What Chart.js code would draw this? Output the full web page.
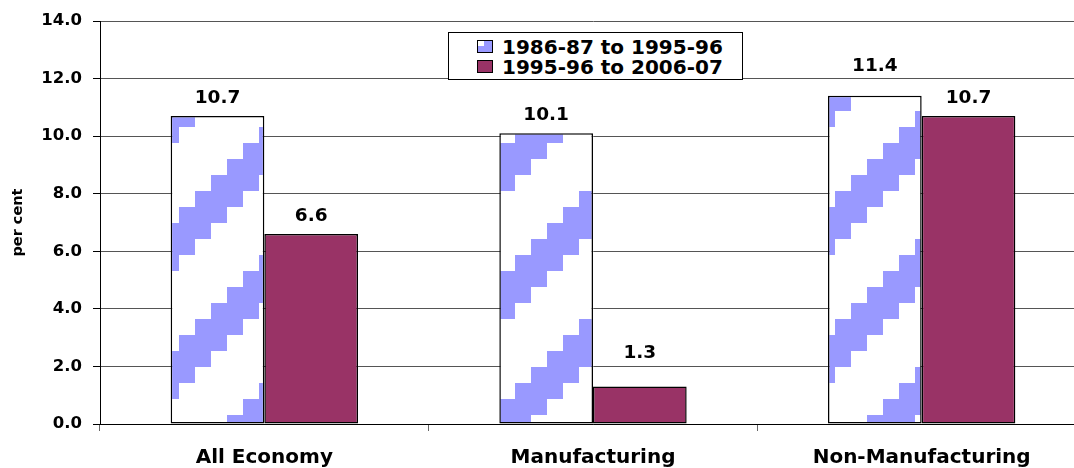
<!DOCTYPE html>
<html>
<head>
<meta charset="utf-8">
<script src="https://cdn.jsdelivr.net/npm/chart.js@4"></script>
<style>
  html, body { margin: 0; padding: 0; background: #fff; overflow: hidden; }
  #wrap { position: relative; width: 1074px; height: 468px; overflow: hidden; }
  #legend {
    position: absolute; left: 448px; top: 32px; width: 295px; height: 48px;
    box-sizing: border-box; border: 1px solid #000; background: #fff;
    font-family: 'DejaVu Sans', sans-serif; font-weight: bold; font-size: 20px;
  }
  .row { position: absolute; left: 53px; line-height: 20px; white-space: nowrap; }
  .sw { position: absolute; left: 28px; width: 16px; height: 13px; box-sizing: border-box; border: 1px solid #000; }
</style>
</head>
<body>
<div id="wrap">
  <canvas id="mycanvas" width="1086" height="468"></canvas>
  <div id="legend"></div>
</div>
<script>
// data
var categories = ['All Economy', 'Manufacturing', 'Non-Manufacturing'];
var seriesNames = ['1986-87 to 1995-96', '1995-96 to 2006-07'];
var firstPeriod = [10.7, 10.1, 11.4];
var secondPeriod = [6.6, 1.3, 10.7];
var yTicks = [0, 2, 4, 6, 8, 10, 12, 14];

var lavender = '#9999ff';
var maroon = '#993366';

// the staircase pattern of the first series (16px cells, 8 cells per repeat)
function makeStairs() {
    var c = document.createElement('canvas');
    c.width = 128;
    c.height = 128;
    var g = c.getContext('2d');
    g.fillStyle = '#fff';
    g.fillRect(0, 0, 128, 128);
    g.fillStyle = lavender;
    for (var u = -1; u <= 8; u++) {
        for (var v = -1; v <= 8; v++) {
            var k = ((u + v) % 8 + 8) % 8;
            if (k == 7 || k == 0 || k == 1) {
                g.fillRect(3 + 16 * u, 15 + 16 * v, 16, 16);
            }
        }
    }
    return g.createPattern(c, 'repeat');
}

// legend drawn as html on top of the plot
var legend = document.getElementById('legend');
seriesNames.forEach(function (name, i) {
    var sw = document.createElement('div');
    sw.className = 'sw';
    sw.style.top = (i == 0 ? 7 : 27) + 'px';
    if (i == 0) {
        sw.style.background = lavender;
        sw.innerHTML = '<div style="width:6px;height:5px;background:#fff"></div>';
    } else {
        sw.style.background = maroon;
    }
    legend.appendChild(sw);
    var t = document.createElement('div');
    t.className = 'row';
    t.style.top = (i == 0 ? 4 : 24) + 'px';
    t.textContent = name;
    legend.appendChild(t);
});

// value labels over the bars
var valueLabels = {
    id: 'valueLabels',
    afterDatasetsDraw: function (chart, args, opts) {
        var ctx = chart.ctx;
        ctx.save();
        ctx.font = 'bold 18.5px "DejaVu Sans"';
        ctx.fillStyle = '#000';
        ctx.textAlign = 'center';
        ctx.textBaseline = 'alphabetic';
        chart.data.datasets.forEach(function (ds, d) {
            chart.getDatasetMeta(d).data.forEach(function (bar, i) {
                var lift = opts.gap + (opts.extra[d + '-' + i] || 0);
                ctx.fillText(ds.data[i].toFixed(1), bar.x, bar.y - lift);
            });
        });
        ctx.restore();
    }
};

var ctx = document.getElementById('mycanvas').getContext('2d');

var chart = new Chart(ctx, {
    type: 'bar',
    data: {
        labels: categories,
        datasets: [
            {
                label: seriesNames[0],
                data: firstPeriod,
                backgroundColor: makeStairs(),
                borderColor: '#000',
                borderWidth: 1.5,
                borderSkipped: false
            },
            {
                label: seriesNames[1],
                data: secondPeriod,
                backgroundColor: maroon,
                borderColor: '#000',
                borderWidth: 1.5,
                borderSkipped: false
            }
        ]
    },
    options: {
        responsive: false,
        animation: false,
        layout: { padding: { top: 21, left: 0, right: 0, bottom: 0 } },
        datasets: { bar: { categoryPercentage: 0.57, barPercentage: 1 } },
        plugins: {
            legend: { display: false },
            tooltip: { enabled: false },
            valueLabels: { gap: 13, extra: { '0-2': 12, '1-1': 16 } }
        },
        scales: {
            x: {
                grid: { display: true, drawOnChartArea: false, offset: true, tickLength: 7, color: '#666' },
                border: { color: '#000', width: 1 },
                ticks: {
                    color: '#000',
                    padding: 15,
                    font: { family: 'DejaVu Sans', weight: 'bold', size: 20 }
                },
                afterFit: function (s) { s.height = 44; }
            },
            y: {
                min: 0,
                max: 14,
                afterBuildTicks: function (s) {
                    s.ticks = yTicks.map(function (v) { return { value: v }; });
                },
                grid: { color: '#555', tickLength: 7, tickColor: '#000' },
                border: { color: '#000', width: 1 },
                ticks: {
                    color: '#000',
                    padding: 11,
                    font: { family: 'DejaVu Sans', weight: 'bold', size: 16.5 },
                    callback: function (v) { return Number(v).toFixed(1); }
                },
                title: {
                    display: true,
                    text: 'per cent',
                    color: '#000',
                    padding: { top: 10, bottom: 0 },
                    font: { family: 'DejaVu Sans', weight: 'bold', size: 14.5 }
                },
                afterFit: function (s) { s.width = 100; }
            }
        }
    },
    plugins: [valueLabels]
});
</script>
</body>
</html>
